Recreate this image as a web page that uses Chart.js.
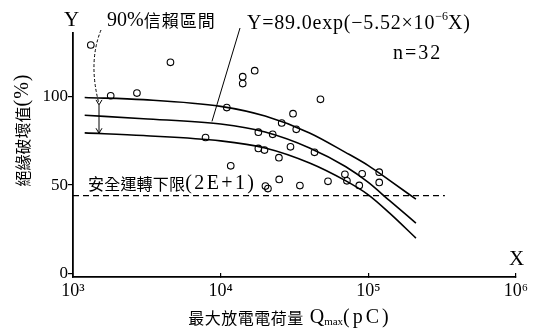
<!DOCTYPE html>
<html><head><meta charset="utf-8">
<script src="https://cdn.jsdelivr.net/npm/chart.js@4/dist/chart.umd.min.js"></script>
<style>html,body{margin:0;padding:0;background:#fff;}#wrap{width:544px;height:328px;}</style>
</head><body><div id="wrap"><canvas id="c" width="544" height="328"></canvas></div>
<script>
// ---- data ----
const xTickValues = [1e3, 1e4, 1e5, 1e6];
const yTickValues = [0, 50, 100];
const curveX = [1200, 3000, 10000, 20000, 40000, 70000, 100000, 140000, 210000];
const fitY   = [89.5, 87.5, 84.5, 80, 71, 60.5, 51.5, 41, 28.5];
const upperY = [99.5, 98.3, 94.5, 89, 79.5, 68.5, 61, 52.5, 42];
const lowerY = [79.5, 78, 75, 71, 62.5, 52.5, 44.5, 34, 20];
const pointX = [1320, 4570, 1800, 2710, 11000, 7900, 17000, 14100, 14100, 47400, 30900, 25900, 32500, 18000, 22500, 18000, 19800, 29700, 24800, 43200, 11700, 24900, 20900, 34400, 53300, 69400, 71600, 90800, 86800, 118500, 118500, 20100];
const pointY = [129.2, 119.4, 100.5, 102.0, 93.8, 76.9, 114.7, 111.3, 107.4, 98.5, 90.4, 85.1, 81.5, 79.9, 78.7, 70.7, 69.8, 71.6, 65.5, 68.5, 60.9, 53.2, 48.0, 49.7, 52.1, 56.1, 52.4, 56.4, 49.8, 57.3, 51.5, 49.4];
const limitX = [1000, 330000];
const limitY = [44, 44];

const SERIF = "'Liberation Serif', 'Noto Sans CJK TC', serif";
const CJK = "'Noto Sans CJK TC', 'Liberation Serif', serif";
const sup = {3:'³',4:'⁴',5:'⁵',6:'⁶'};

const curve = (ys) => curveX.map((v, i) => ({x: v, y: ys[i]}));

// draw text made of runs (font / letter spacing / vertical shift per run)
function runsWidth(ctx, runs) {
  let w = 0;
  for (const r of runs) {
    ctx.font = r.f;
    for (const ch of r.t) w += ctx.measureText(ch).width + (r.ls || 0);
  }
  return w;
}
function drawRuns(ctx, x, y, runs) {
  ctx.textAlign = 'left';
  ctx.textBaseline = 'middle';
  let cx = x;
  for (const r of runs) {
    ctx.font = r.f;
    for (const ch of r.t) {
      ctx.fillText(ch, cx, y + (r.dy || 0));
      cx += ctx.measureText(ch).width + (r.ls || 0);
    }
  }
}
const S = (n) => n + 'px ' + SERIF;
const C = (n) => n + 'px ' + CJK;

function arrowDown(ctx, x, y, s) {
  ctx.beginPath();
  ctx.moveTo(x - s * 0.6, y - s);
  ctx.lineTo(x, y);
  ctx.lineTo(x + s * 0.6, y - s);
  ctx.stroke();
}

const annot = {
  id: 'annot',
  afterDraw(chart) {
    const {ctx, scales: {x, y}} = chart;
    const P = (X, Y) => [x.getPixelForValue(X), y.getPixelForValue(Y)];
    ctx.save();
    ctx.fillStyle = '#000';
    ctx.strokeStyle = '#000';
    // axis letters
    ctx.font = S(21);
    ctx.textAlign = 'center';
    ctx.textBaseline = 'middle';
    ctx.fillText('Y', 71.5, 20);
    ctx.fillText('X', 516.5, 259);
    // annotations
    drawRuns(ctx, 107, 21, [{t: '90%', f: S(20)}, {t: '信賴區間', f: C(17), ls: 1}]);
    drawRuns(ctx, 247, 24, [{t: 'Y=89.0exp(−5.52×10', f: S(20), ls: 0.8}, {t: '−6', f: S(12), dy: -7}, {t: 'X)', f: S(20), ls: 0.8}]);
    drawRuns(ctx, 393, 54, [{t: 'n=32', f: S(20), ls: 2}]);
    drawRuns(ctx, 88, 184, [{t: '安全運轉下限', f: C(16), ls: 0.2}, {t: '(2E+1)', f: S(20), ls: 2.4}]);
    // x axis title
    const xt = [{t: '最大放電電荷量', f: C(16), ls: 0.5}, {t: '  ', f: S(12)}, {t: 'Q', f: S(20)}, {t: 'max', f: S(11), dy: 4}, {t: '(pC)', f: S(20), ls: 3}];
    drawRuns(ctx, 290 - runsWidth(ctx, xt) / 2, 318, xt);
    // y axis title (rotated)
    const yt = [{t: '絕緣破壞值', f: C(16)}, {t: '(%)', f: S(20), ls: 1}];
    ctx.save();
    ctx.translate(23, 130);
    ctx.rotate(-Math.PI / 2);
    drawRuns(ctx, -runsWidth(ctx, yt) / 2, 0, yt);
    ctx.restore();
    // leader line from equation to fitted curve
    ctx.lineWidth = 1;
    const [lx, ly] = P(8730, 86);
    ctx.beginPath();
    ctx.moveTo(240, 28);
    ctx.lineTo(lx, ly);
    ctx.stroke();
    // confidence-interval marker
    const [ax, ayTop] = P(1500, 99.3);
    const [, ayBot] = P(1500, 79.3);
    ctx.setLineDash([3, 2]);
    ctx.beginPath();
    ctx.moveTo(101, 30);
    ctx.quadraticCurveTo(88, 62, ax, ayTop + 6);
    ctx.stroke();
    ctx.setLineDash([]);
    arrowDown(ctx, ax, ayTop + 7, 5);
    ctx.beginPath();
    ctx.moveTo(ax, ayTop + 7);
    ctx.lineTo(ax, ayBot);
    ctx.stroke();
    arrowDown(ctx, ax, ayBot, 5);
    ctx.restore();
  }
};

new Chart(document.getElementById('c'), {
  type: 'line',
  data: {
    datasets: [
      {data: curve(upperY), borderColor: '#000', borderWidth: 1.6, pointRadius: 0, cubicInterpolationMode: 'monotone', fill: false},
      {data: curve(fitY), borderColor: '#000', borderWidth: 1.6, pointRadius: 0, cubicInterpolationMode: 'monotone', fill: false},
      {data: curve(lowerY), borderColor: '#000', borderWidth: 1.6, pointRadius: 0, cubicInterpolationMode: 'monotone', fill: false},
      {data: limitX.map((v, i) => ({x: v, y: limitY[i]})), borderColor: '#000', borderWidth: 1.3, borderDash: [6, 4], pointRadius: 0, fill: false},
      {type: 'scatter', data: pointX.map((v, i) => ({x: v, y: pointY[i]})), pointStyle: 'circle', pointRadius: 3.3, borderColor: '#000', borderWidth: 1.1, backgroundColor: 'rgba(0,0,0,0)', showLine: false}
    ]
  },
  options: {
    responsive: false,
    animation: false,
    events: [],
    layout: {padding: {left: 0, right: 28, top: 33, bottom: 0}},
    plugins: {legend: {display: false}, tooltip: {enabled: false}},
    scales: {
      x: {
        type: 'logarithmic', min: 1000, max: 1e6,
        afterBuildTicks: (s) => { s.ticks = xTickValues.map(v => ({value: v, major: true})); },
        afterFit: (s) => { s.height = 51; },
        ticks: {autoSkip: false, maxRotation: 0, padding: 7, color: '#000', font: {family: SERIF, size: 18},
          callback: (v) => '10' + sup[Math.round(Math.log10(v))]},
        grid: {drawOnChartArea: false, drawTicks: true, tickLength: -4, color: '#000', lineWidth: 1.2},
        border: {display: true, color: '#000', width: 1.8},
        title: {display: false}
      },
      y: {
        type: 'linear', min: -2, max: 136,
        afterBuildTicks: (s) => { s.ticks = yTickValues.map(v => ({value: v})); },
        afterFit: (s) => { s.width = 73; },
        ticks: {padding: 0, color: '#000', font: {family: SERIF, size: 17}},
        grid: {drawOnChartArea: false, drawTicks: true, tickLength: 5, color: '#000', lineWidth: 1.2},
        border: {display: true, color: '#000', width: 1.8}
      }
    }
  },
  plugins: [annot]
});
</script>
</body></html>
